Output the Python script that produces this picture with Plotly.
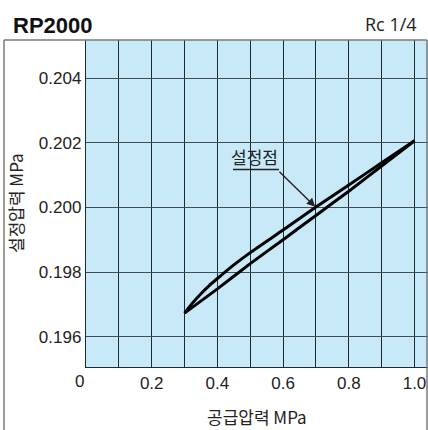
import plotly.graph_objects as go

# ---- data ----
supply_up = [0.30, 0.325, 0.35, 0.375, 0.40, 0.45, 0.50, 0.60, 0.70, 0.80, 0.90, 1.00]
set_up = [0.19673, 0.19705, 0.19733, 0.19758, 0.19780, 0.19822, 0.19860, 0.19930,
          0.20001, 0.20069, 0.20138, 0.20206]
supply_down = [0.30, 0.40, 0.50, 0.60, 0.70, 0.80, 0.90, 1.00]
set_down = [0.19673, 0.19748, 0.19826, 0.19900, 0.19975, 0.20050, 0.20128, 0.20206]

x_tickvals = [0.1, 0.2, 0.3, 0.4, 0.5, 0.6, 0.7, 0.8, 0.9, 1.0]
x_ticktext = ["", "0.2", "", "0.4", "", "0.6", "", "0.8", "", "1.0"]
y_tickvals = [0.196, 0.198, 0.200, 0.202, 0.204]
y_ticktext = ["0.196", "0.198", "0.200", "0.202", "0.204"]

W, H = 428, 430
ML, MR, MT, MB = 86, 0, 40, 63
PW, PH = W - ML - MR, H - MT - MB

def px(xp):
    return (xp - ML) / PW

def py(yp):
    return (H - MB - yp) / PH

BG = "#c8e9f8"
GRID = "#1f2a30"
FONT = "Liberation Sans, Arial, sans-serif"
KFONT = "Noto Sans CJK KR, sans-serif"

fig = go.Figure()
for xs, ys in [(supply_up, set_up), (supply_down, set_down)]:
    fig.add_trace(go.Scatter(x=xs, y=ys, mode="lines",
                             line=dict(color="#000000", width=3, shape="spline", smoothing=0.5),
                             showlegend=False, hoverinfo="skip"))

fig.update_layout(
    width=W, height=H,
    margin=dict(l=ML, r=MR, t=MT, b=MB),
    paper_bgcolor="white", plot_bgcolor=BG,
    font=dict(family=FONT, size=17, color="#222"),
    xaxis=dict(range=[0, PW / 328.5], tickvals=x_tickvals, ticktext=x_ticktext,
               showgrid=True, gridcolor=GRID, gridwidth=1.4, zeroline=False,
               showline=True, linecolor=GRID, linewidth=1.4, ticks="",
               tickfont=dict(family=FONT, size=17, color="#222")),
    yaxis=dict(range=[0.195063, 0.205175], tickvals=y_tickvals, ticktext=y_ticktext,
               showgrid=True, gridcolor="#3e4f5a", gridwidth=1.4, zeroline=False,
               showline=True, linecolor=GRID, linewidth=1.4, ticks="",
               tickfont=dict(family=FONT, size=17, color="#222")),
)

# outer frame
frame = dict(color="#7a7a7a", width=1.5)
fig.add_shape(type="line", xref="paper", yref="paper", x0=px(4), x1=px(4), y0=py(40), y1=py(440), line=frame)
fig.add_shape(type="line", xref="paper", yref="paper", x0=px(4), x1=px(427), y0=py(40), y1=py(40), line=frame)
fig.add_shape(type="line", xref="paper", yref="paper", x0=px(427), x1=px(427), y0=py(40), y1=py(440), line=frame)

# titles
fig.add_annotation(text="<b>RP2000</b>", xref="paper", yref="paper", x=px(11), y=py(25),
                   xanchor="left", yanchor="middle", showarrow=False,
                   font=dict(family=FONT, size=22, color="#111"))
fig.add_annotation(text="Rc 1/4", xref="paper", yref="paper", x=px(419), y=py(24),
                   xanchor="right", yanchor="middle", showarrow=False,
                   font=dict(family="Open Sans, sans-serif", size=18, color="#222"))
fig.add_annotation(text="0", xref="paper", yref="paper", x=px(79), y=py(381),
                   xanchor="center", yanchor="middle", showarrow=False,
                   font=dict(family=FONT, size=17, color="#222"))
fig.add_annotation(text="공급압력 MPa", xref="paper", yref="paper", x=px(257), y=py(416),
                   xanchor="center", yanchor="middle", showarrow=False,
                   font=dict(family=KFONT, size=17, color="#222"))
fig.add_annotation(text="설정압력 MPa", xref="paper", yref="paper", x=px(15), y=py(203),
                   xanchor="center", yanchor="middle", showarrow=False, textangle=-90,
                   font=dict(family=KFONT, size=17, color="#222"))

# set point callout
fig.add_annotation(text="설정점", xref="paper", yref="paper", x=px(254), y=py(156),
                   xanchor="center", yanchor="middle", showarrow=False,
                   font=dict(family=KFONT, size=17, color="#222"))
fig.add_shape(type="line", xref="paper", yref="paper", x0=px(233), x1=px(279),
              y0=py(169.5), y1=py(169.5), line=dict(color="#222", width=1.5))
fig.add_annotation(x=0.7, y=0.2, xref="x", yref="y", text="", showarrow=True,
                   ax=-38, ay=-37, arrowhead=2, arrowsize=1.2, arrowwidth=1.4,
                   arrowcolor="#222", standoff=1)

fig.write_html("out.html")
